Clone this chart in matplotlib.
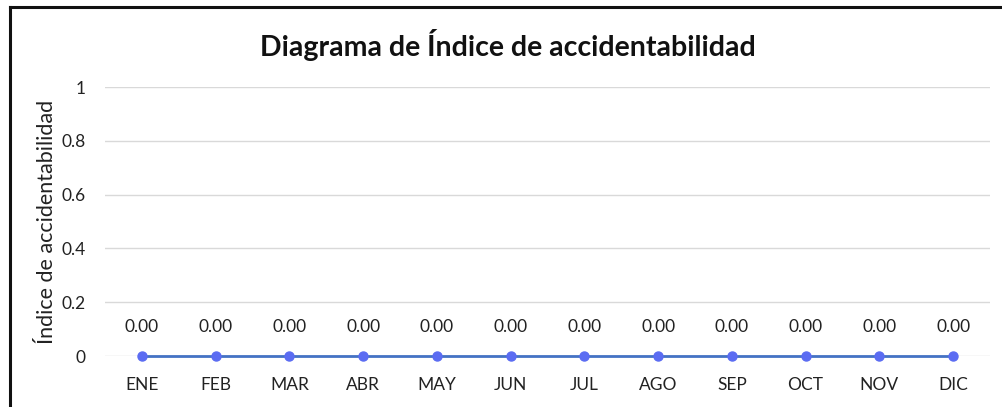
import matplotlib.pyplot as plt
from matplotlib.lines import Line2D

months = ["ENE", "FEB", "MAR", "ABR", "MAY", "JUN",
          "JUL", "AGO", "SEP", "OCT", "NOV", "DIC"]
indice = [0.00, 0.00, 0.00, 0.00, 0.00, 0.00,
          0.00, 0.00, 0.00, 0.00, 0.00, 0.00]
y_ticks = [0, 0.2, 0.4, 0.6, 0.8, 1]
y_tick_labels = ["0", "0.2", "0.4", "0.6", "0.8", "1"]

plt.rcParams["font.family"] = ["Lato", "DejaVu Sans"]

fig = plt.figure(figsize=(10.03, 4.07), dpi=100)
ax = fig.add_axes([0.1047, 0.1253, 0.8823, 0.6609])

x = list(range(len(months)))
ax.plot(x, indice, color="#4472C4", linewidth=2.0, marker="o",
        markersize=6.5, markerfacecolor="#5B6CF2", markeredgecolor="#5B6CF2",
        zorder=3, clip_on=False)

for xi, v in zip(x, indice):
    ax.annotate(f"{v:.2f}", (xi, v), xytext=(0, 21), textcoords="offset points",
                ha="center", va="center", fontsize=12.5, color="#222222")

ax.set_xlim(-0.5, len(months) - 0.5)
ax.set_ylim(0, 1)
ax.set_yticks(y_ticks)
ax.set_yticklabels(y_tick_labels)
ax.set_xticks(x)
ax.set_xticklabels(months)
ax.tick_params(axis="both", length=0, labelsize=12.5, colors="#222222")
ax.tick_params(axis="y", pad=14)
ax.tick_params(axis="x", pad=15)
ax.yaxis.grid(True, color="#D9D9D9", linewidth=1)
ax.set_axisbelow(True)
for s in ax.spines.values():
    s.set_visible(False)

ax.set_ylabel("Índice de accidentabilidad", fontsize=15.5, color="#222222")
ax.yaxis.set_label_coords(-0.054, 0.5)

fig.text(0.506, 0.89, "Diagrama de Índice de accidentabilidad",
         ha="center", va="center", fontsize=20.5, fontweight="bold",
         color="#111111")

# chart frame (left and top edges)
fig.add_artist(Line2D([0.0095, 0.0095], [0.0, 0.984], color="#111111",
                      linewidth=2.2, transform=fig.transFigure))
fig.add_artist(Line2D([0.0095, 1.0], [0.984, 0.984], color="#111111",
                      linewidth=2.2, transform=fig.transFigure))

fig.savefig("out.png", dpi=100)
